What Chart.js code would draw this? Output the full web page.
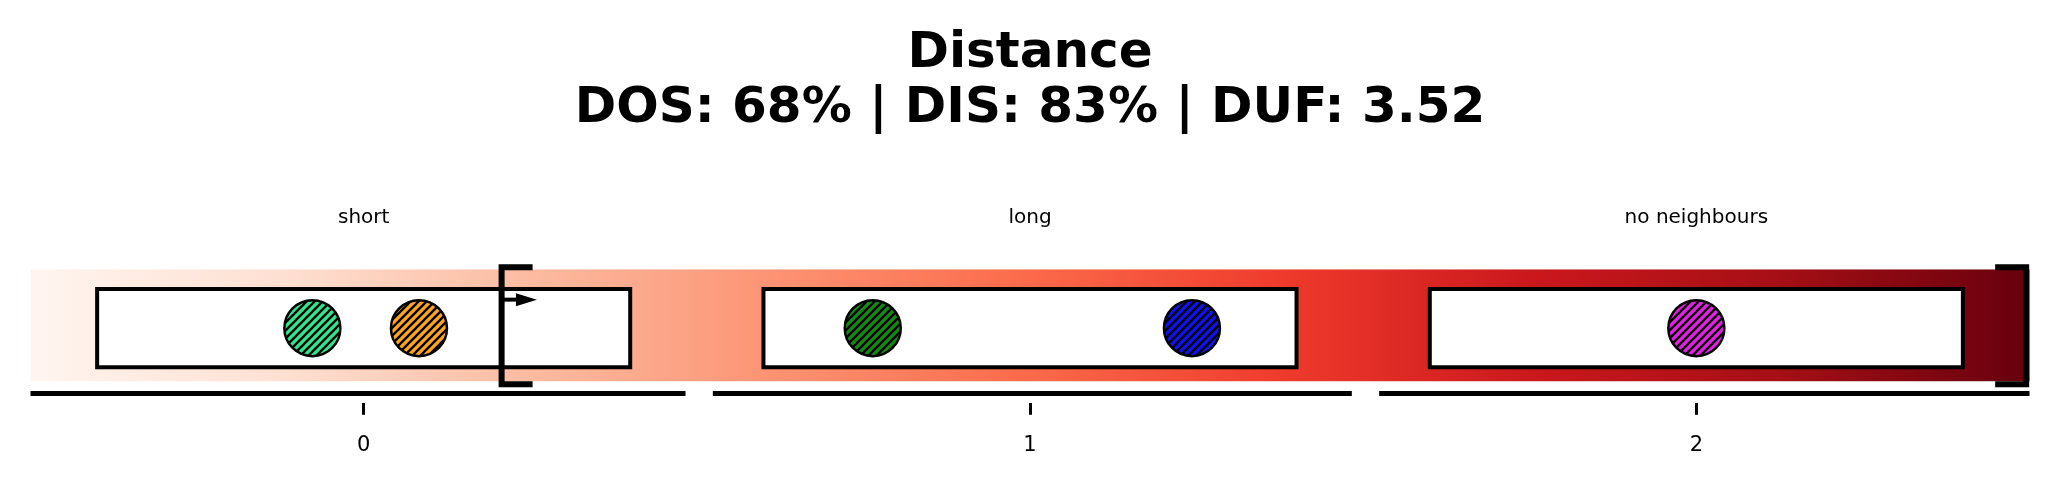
<!DOCTYPE html>
<html lang="en">

<head>
    <meta charset="UTF-8">
    <title>Distance</title>
    <script src="https://cdn.jsdelivr.net/npm/chart.js"></script>
    <style>
        body { margin: 0; background: #fff; }
    </style>
</head>

<body>
    <canvas id="distanceChart" width="2060" height="488"></canvas>

    <script>
        // Chart data
        const titleLines = ['Distance', 'DOS: 68% | DIS: 83% | DUF: 3.52'];
        const categories = ['short', 'long', 'no neighbours'];
        const tickValues = [0, 1, 2];
        const tickLabels = ['0', '1', '2'];

        // one hatched marker per object, x in category units
        const pointX = [-0.077, 0.083, 0.764, 1.243, 2.0];
        const pointY = [-0.025, -0.025, -0.025, -0.025, -0.025];
        const pointColors = ['#2ee68c', '#ffa51a', '#138a13', '#1010f0', '#e61ee6'];

        // background band, boxes, axis pieces and threshold brackets
        const bandX = [-0.5, 2.5];
        const bandY = [-0.5, 0.5];
        const boxHalfWidth = 0.4;
        const boxY = [-0.375, 0.325];
        const axisStart = [-0.5, 0.524, 1.524];
        const axisEnd = [0.483, 1.483, 2.5];
        const axisY = -0.61;
        const bracketX = [0.207, 2.495];
        const bracketSide = [1, -1];
        const bracketY = [-0.527, 0.52];
        const arrowX = [0.207, 0.26];
        const arrowY = 0.23;
        const labelY = 0.965;

        // matplotlib "Reds"
        const reds = ['#fff5f0', '#fee0d2', '#fcbba1', '#fc9272', '#fb6a4a', '#ef3b2c', '#cb181d', '#a50f15', '#67000d'];

        function hatch(color) {
            const s = 8;
            const c = document.createElement('canvas');
            c.width = s; c.height = s;
            const g = c.getContext('2d');
            g.fillStyle = color;
            g.fillRect(0, 0, s, s);
            g.strokeStyle = '#000';
            g.lineWidth = 2.3;
            g.beginPath();
            g.moveTo(-1, s + 1); g.lineTo(s + 1, -1);
            g.moveTo(-1, 1); g.lineTo(1, -1);
            g.moveTo(s - 1, s + 1); g.lineTo(s + 1, s - 1);
            g.stroke();
            return g.createPattern(c, 'repeat');
        }

        const decorations = {
            id: 'decorations',
            beforeDatasetsDraw(chart) {
                const { ctx, scales: { x, y } } = chart;
                ctx.save();
                // gradient band
                const x0 = x.getPixelForValue(bandX[0]), x1 = x.getPixelForValue(bandX[1]);
                const grad = ctx.createLinearGradient(x0, 0, x1, 0);
                reds.forEach((c, i) => grad.addColorStop(i / (reds.length - 1), c));
                ctx.fillStyle = grad;
                const yt = y.getPixelForValue(bandY[1]), yb = y.getPixelForValue(bandY[0]);
                ctx.fillRect(x0, yt, x1 - x0, yb - yt);

                // category boxes
                ctx.lineWidth = 4;
                ctx.strokeStyle = '#000';
                ctx.fillStyle = '#fff';
                categories.forEach((cat, i) => {
                    const l = x.getPixelForValue(tickValues[i] - boxHalfWidth);
                    const r = x.getPixelForValue(tickValues[i] + boxHalfWidth);
                    const t = y.getPixelForValue(boxY[1]);
                    const b = y.getPixelForValue(boxY[0]);
                    ctx.fillRect(l, t, r - l, b - t);
                    ctx.strokeRect(l, t, r - l, b - t);
                });

                // category names
                ctx.fillStyle = '#000';
                ctx.font = '20px "DejaVu Sans"';
                ctx.textAlign = 'center';
                ctx.textBaseline = 'middle';
                categories.forEach((cat, i) => {
                    ctx.fillText(cat, x.getPixelForValue(tickValues[i]), y.getPixelForValue(labelY));
                });
                ctx.restore();
            },
            afterDatasetsDraw(chart) {
                const { ctx, scales: { x, y } } = chart;
                ctx.save();
                ctx.strokeStyle = '#000';
                ctx.fillStyle = '#000';

                // axis pieces under each category
                ctx.lineWidth = 5;
                const ay = y.getPixelForValue(axisY);
                axisStart.forEach((s, i) => {
                    ctx.beginPath();
                    ctx.moveTo(x.getPixelForValue(s), ay);
                    ctx.lineTo(x.getPixelForValue(axisEnd[i]), ay);
                    ctx.stroke();
                });

                // threshold brackets
                ctx.lineWidth = 6;
                ctx.lineJoin = 'miter';
                const bt = y.getPixelForValue(bracketY[1]), bb = y.getPixelForValue(bracketY[0]);
                bracketX.forEach((bx, i) => {
                    const px = x.getPixelForValue(bx);
                    const cap = 31 * bracketSide[i];
                    ctx.beginPath();
                    ctx.moveTo(px + cap, bt);
                    ctx.lineTo(px, bt);
                    ctx.lineTo(px, bb);
                    ctx.lineTo(px + cap, bb);
                    ctx.stroke();
                });

                // arrow
                const a0 = x.getPixelForValue(arrowX[0]), a1 = x.getPixelForValue(arrowX[1]);
                const py = y.getPixelForValue(arrowY);
                ctx.lineWidth = 4;
                ctx.beginPath();
                ctx.moveTo(a0, py);
                ctx.lineTo(a1 - 18, py);
                ctx.stroke();
                ctx.beginPath();
                ctx.moveTo(a1, py);
                ctx.lineTo(a1 - 21, py - 6.5);
                ctx.lineTo(a1 - 21, py + 6.5);
                ctx.closePath();
                ctx.fill();
                ctx.restore();
            }
        };

        Chart.defaults.font.family = '"DejaVu Sans"';
        Chart.defaults.color = '#000';

        const chart = new Chart(document.getElementById('distanceChart'), {
            type: 'scatter',
            data: {
                datasets: [{
                    data: pointX.map((v, i) => ({ x: v, y: pointY[i] })),
                    pointRadius: 28,
                    pointHoverRadius: 28,
                    borderWidth: 2.5,
                    pointBorderColor: '#000',
                    pointBackgroundColor: pointColors.map(hatch)
                }]
            },
            options: {
                responsive: false,
                animation: false,
                layout: { padding: { left: 30, right: 30, top: 0, bottom: 12 } },
                plugins: {
                    legend: { display: false },
                    tooltip: { enabled: false },
                    title: {
                        display: true,
                        text: titleLines,
                        font: { size: 50, weight: 'bold', lineHeight: 1.1 },
                        padding: { top: 27, bottom: 9.5 }
                    }
                },
                scales: {
                    x: {
                        type: 'linear',
                        min: -0.5,
                        max: 2.5,
                        afterBuildTicks: scale => { scale.ticks = tickValues.map(v => ({ value: v })); },
                        ticks: {
                            font: { size: 21 },
                            padding: 18,
                            callback: (value, index) => tickLabels[index]
                        },
                        grid: {
                            drawOnChartArea: false,
                            drawTicks: true,
                            tickLength: 12,
                            tickWidth: 3,
                            tickColor: '#000'
                        },
                        border: { display: false }
                    },
                    y: {
                        display: false,
                        min: -0.693,
                        max: 1.6
                    }
                }
            },
            plugins: [decorations]
        });
    </script>
</body>

</html>
